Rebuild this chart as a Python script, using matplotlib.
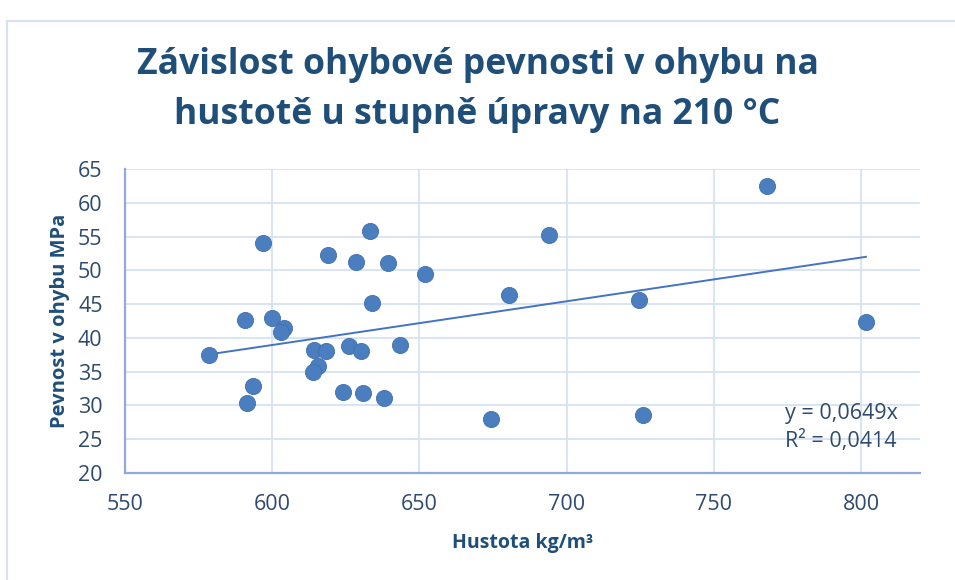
import matplotlib.pyplot as plt
from matplotlib.lines import Line2D

# hustota [kg/m3] a pevnost v ohybu [MPa]
hustota = [578.7, 597.0, 590.7, 600.0, 604.0, 603.1, 593.6, 591.6, 619.1, 628.4,
           633.2, 639.5, 651.9, 633.9, 614.2, 618.3, 626.0, 630.3, 643.4, 615.6,
           613.8, 624.0, 631.0, 638.0, 680.5, 693.9, 674.2, 724.6, 726.0, 767.9,
           801.6]
pevnost = [37.5, 54.1, 42.65, 43.0, 41.5, 40.9, 32.85, 30.4, 52.3, 51.25,
           55.9, 51.15, 49.5, 45.2, 38.2, 38.05, 38.8, 38.1, 39.0, 35.8,
           35.0, 32.0, 31.75, 31.1, 46.35, 55.2, 27.9, 45.6, 28.5, 62.5,
           42.3]
slope = 0.0649
r2 = 0.0414

x_ticks = [550, 600, 650, 700, 750, 800]
y_ticks = [20, 25, 30, 35, 40, 45, 50, 55, 60, 65]

title = 'Závislost ohybové pevnosti v ohybu na\nhustotě u stupně úpravy na 210 °C'
xlabel = 'Hustota kg/m³'
ylabel = 'Pevnost v ohybu MPa'

plt.rcParams['font.family'] = ['Open Sans', 'DejaVu Sans']

dark = '#1F4E79'
tick_c = '#2E4A6E'
grid_c = '#D6E2F3'
axis_c = '#8FAADC'
dot_c = '#4A7EBF'

fig = plt.figure(figsize=(9.55, 5.8), dpi=100)
ax = fig.add_axes([0.1307, 0.185, 0.8327, 0.523])

ax.scatter(hustota, pevnost, s=135, color=dot_c, edgecolors='#3F6FAE',
           linewidths=0.6, zorder=3)
xs = [min(hustota), max(hustota)]
ax.plot(xs, [slope * v for v in xs], color='#4472C4', lw=1.4, zorder=2)

ax.set_xlim(550, 820)
ax.set_ylim(20, 65)
ax.set_xticks(x_ticks)
ax.set_yticks(y_ticks)
ax.grid(True, color=grid_c, lw=1.3)
ax.set_axisbelow(True)
for s in ['top', 'right']:
    ax.spines[s].set_visible(False)
for s in ['left', 'bottom']:
    ax.spines[s].set_color(axis_c)
    ax.spines[s].set_linewidth(1.6)
ax.tick_params(length=0, labelsize=15.5, labelcolor=tick_c)
ax.tick_params(axis='y', pad=16)
ax.tick_params(axis='x', pad=15)

ax.set_xlabel(xlabel, fontsize=14, fontweight='bold', color=dark, labelpad=13)
ax.set_ylabel(ylabel, fontsize=14.5, fontweight='bold', color=dark, labelpad=6)

fig.text(0.5, 0.845, title, ha='center', va='center', fontsize=25.6,
         fontweight='bold', color=dark, linespacing=1.5)

ax.text(774, 26.7, 'y = 0,0649x\nR² = 0,0414', transform=ax.transData,
        ha='left', va='center', fontsize=15.5, color=tick_c, linespacing=1.3)

# rámeček grafu
fig.add_artist(Line2D([7 / 955, 7 / 955], [0, 1 - 21 / 580],
                      transform=fig.transFigure, color=grid_c, lw=1.5))
fig.add_artist(Line2D([7 / 955, 1], [1 - 21 / 580, 1 - 21 / 580],
                      transform=fig.transFigure, color=grid_c, lw=1.5))

fig.savefig('out.png', dpi=100)
